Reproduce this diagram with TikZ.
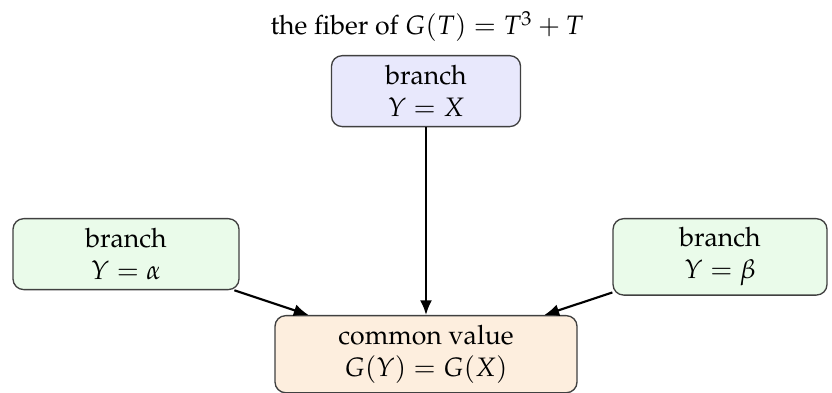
\documentclass[tikz,border=0pt]{standalone}
\usepackage[T1]{fontenc}
\usepackage{mathpazo}
\usetikzlibrary{arrows.meta}
\definecolor{topfill}{HTML}{E8E8FC}
\definecolor{sidefill}{HTML}{EAFBEA}
\definecolor{basefill}{HTML}{FDEEDE}
\tikzset{
  box/.style={draw=black!75, line width=0.5pt, rounded corners=4pt,
    align=center, inner sep=3.33pt, anchor=north},
  link/.style={-{Latex[length=5.5pt,width=4.5pt]}, line width=0.8pt}
}
\begin{document}
\begin{tikzpicture}[x=0.375pt, y=-0.375pt]
  \useasboundingbox (0,0) rectangle (832,393);
  \node[anchor=base] (title) at (427,35) {the fiber of $G(T) = T^3 + T$};
  \node[box, fill=topfill, minimum width=70.9pt, minimum height=26.6pt] (top) at (426,55) {branch\\ $Y = X$};
  \node[box, fill=sidefill, minimum width=84.75pt, minimum height=26.6pt] (left) at (126,218) {branch\\ $Y = \alpha$};
  \node[box, fill=sidefill, minimum width=80.25pt] (right) at (720,218) {branch\\ $Y = \beta$};
  \node[box, fill=basefill, minimum width=113.25pt, minimum height=28.9pt] (base) at (426,315) {common value\\ $G(Y) = G(X)$};
  \draw[link] (top) -- (base);
  \draw[link] (left) -- (base);
  \draw[link] (right) -- (base);
\end{tikzpicture}
\end{document}
